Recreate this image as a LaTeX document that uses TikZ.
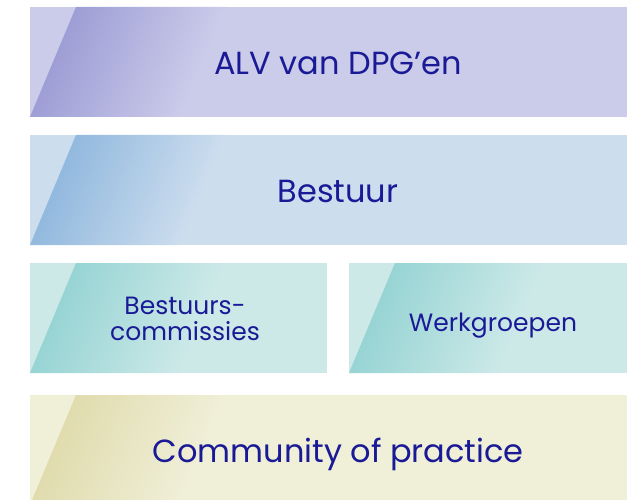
\documentclass[tikz,border=0pt]{standalone}
\usepackage{fontspec}
\setmainfont{Poppins}

\definecolor{alvbase}{HTML}{CBCBEA}
\definecolor{alvdark}{HTML}{9E9ED6}
\definecolor{bestbase}{HTML}{CCDDEE}
\definecolor{bestdark}{HTML}{92B9DE}
\definecolor{combase}{HTML}{CCE9E8}
\definecolor{comdark}{HTML}{98D4D4}
\definecolor{copbase}{HTML}{F0EFD8}
\definecolor{copdark}{HTML}{E0DCAE}
\definecolor{tekst}{HTML}{1A1A96}

% tile: x0, y0, x1, y1, base colour, dark colour
\newcommand{\tegel}[6]{%
  \fill[#5] (#1,#2) rectangle (#3,#4);
  \begin{scope}[transform canvas={shift={(#1,#2)},xslant=0.418}]
    \shade[left color=#6,right color=#5] (0,0) rectangle (150,110);
  \end{scope}
}

\begin{document}
\begin{tikzpicture}
[x=1pt,y=1pt,%
  every node/.style={text=tekst,inner sep=0pt},%
  groot/.style={font=\fontsize{32}{34}\selectfont,anchor=base},%
  klein/.style={font=\fontsize{25}{26}\selectfont,align=center}]
\clip (0,0) rectangle (627,499);
\fill[white] (0,0) rectangle (627,499);
\tegel{30}{382}{627}{492}{alvbase}{alvdark}
\tegel{30}{254}{627}{364}{bestbase}{bestdark}
\tegel{30}{126}{327}{236}{combase}{comdark}
\tegel{349}{126}{627}{236}{combase}{comdark}
\tegel{30}{-6}{627}{104}{copbase}{copdark}
\node[groot] (alv) at (338,424) {ALV van DPG’en};
\node[groot] (bestuur) at (338,296) {Bestuur};
\node[klein] (commissies) at (185,180) {Bestuurs-\\commissies};
\node[klein,anchor=base] (werkgroepen) at (493,168) {Werkgroepen};
\node[groot] (cop) at (338,37) {Community of practice};
\end{tikzpicture}
\end{document}
